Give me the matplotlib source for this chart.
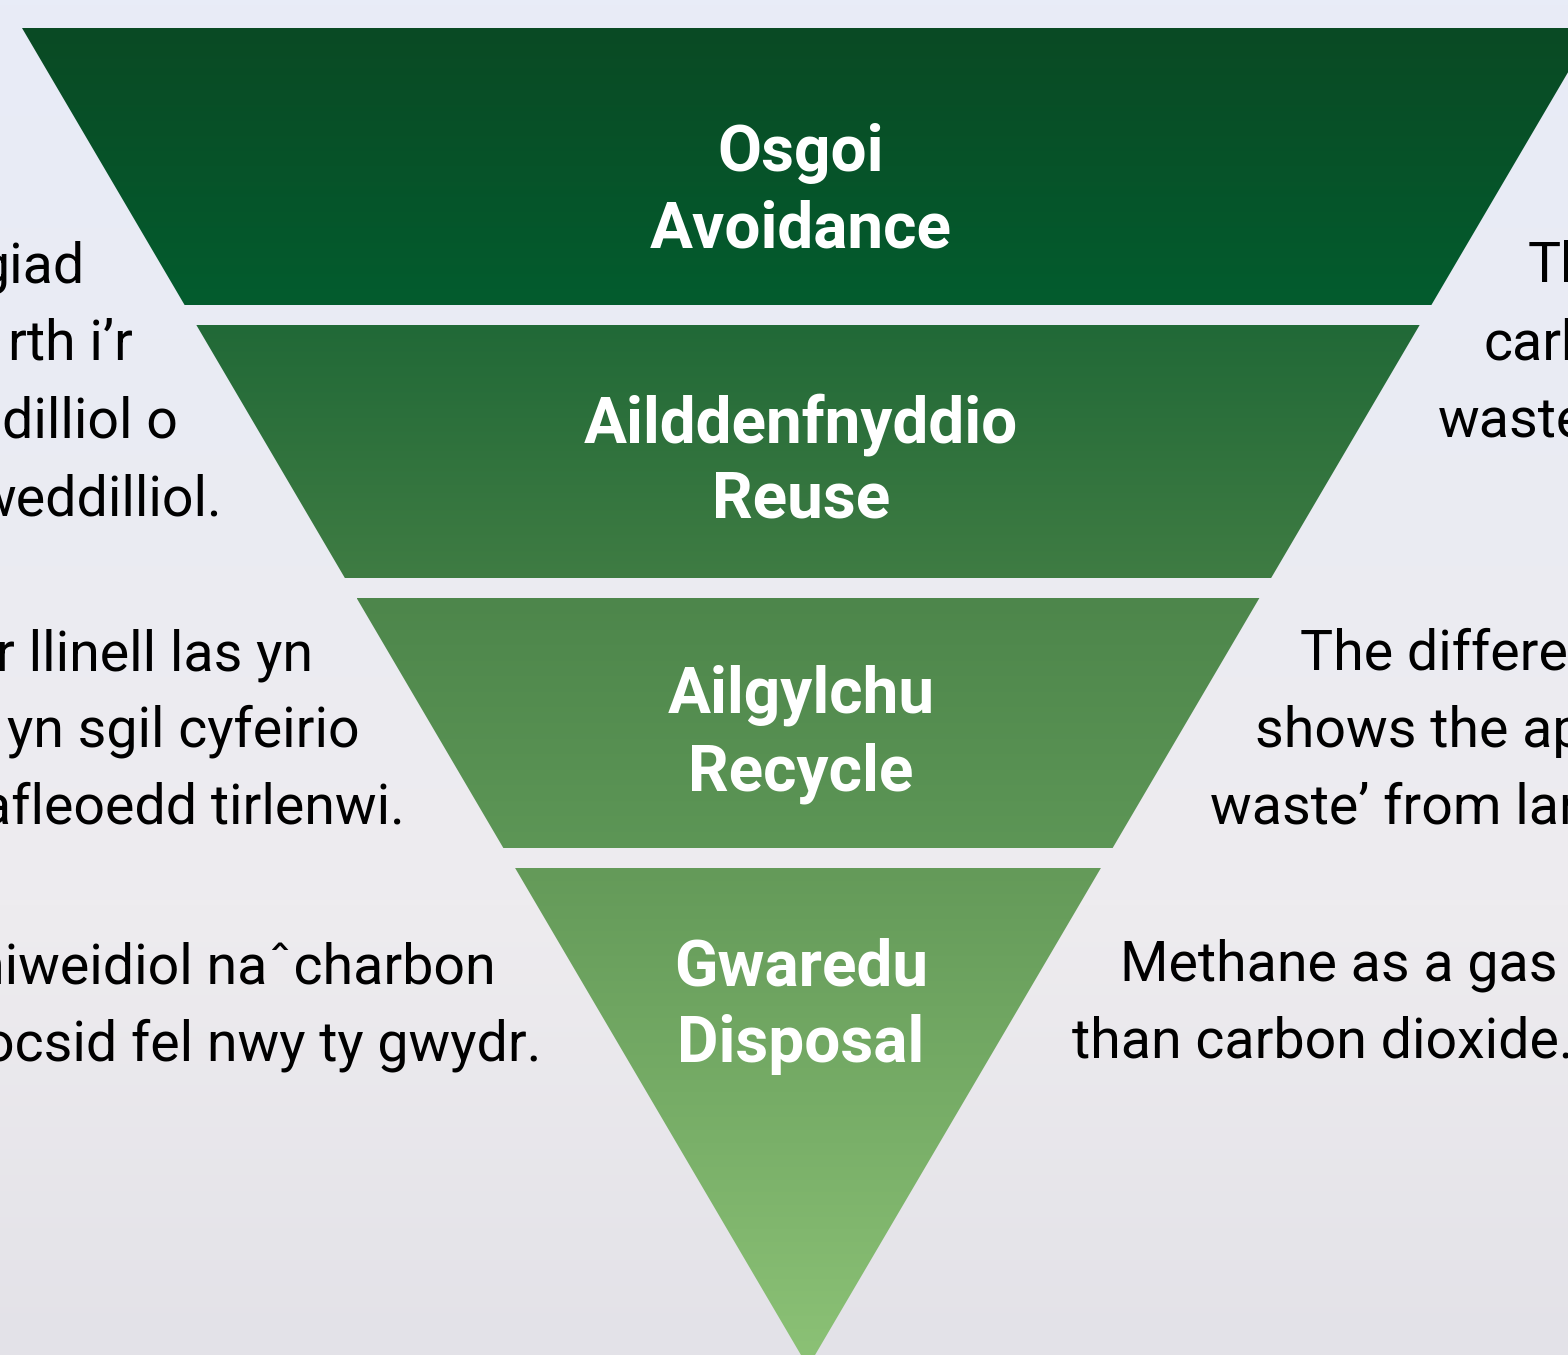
import numpy as np
import matplotlib.pyplot as plt
from matplotlib.patches import Polygon
from matplotlib.colors import LinearSegmentedColormap

# funnel levels (Welsh / English), top to bottom
labels_cy = ["Osgoi", "Ailddenfnyddio", "Ailgylchu", "Gwaredu"]
labels_en = ["Avoidance", "Reuse", "Recycle", "Disposal"]
band_top = [28, 325, 598, 868]
band_bottom = [305, 578, 848, 1367]
band_colors = [("#0a4a24", "#035c2e"), ("#216937", "#3f7c43"),
               ("#4d864b", "#5d9656"), ("#649a59", "#8cc276")]

# side notes (cropped in the original picture)
left_lines = ["giad", "rth i\u2019r", "dilliol o", "weddilliol.",
              "r llinell las yn", "yn sgil cyfeirio", "afleoedd tirlenwi.",
              "niweidiol na\u02c6charbon", "ocsid fel nwy ty gwydr."]
right_lines = ["Th", "carb", "waste",
               "The differen", "shows the ap", "waste\u2019 from lan",
               "Methane as a gas", "than carbon dioxide."]

# layout (pixels)
left_x = [85, 133, 178, 222, 313, 360, 405, 496, 541]
left_y = [283, 360, 438, 515, 670, 747, 823, 983, 1060]
right_x = [1528, 1484, 1438, 1300, 1255, 1210, 1120, 1072]
right_y = [282, 360, 437, 670, 747, 823, 980, 1057]
label_y = [(171, 247), (442, 518), (713, 790), (985, 1062)]

W, H = 1568, 1355
fig = plt.figure(figsize=(W / 100, H / 100), dpi=100)
ax = fig.add_axes([0, 0, 1, 1])
ax.set_xlim(0, W)
ax.set_ylim(H, 0)
ax.axis("off")

# background
bg = LinearSegmentedColormap.from_list("bg", ["#e8ecf7", "#eaebf3", "#eeecef", "#e3e2e8"])
ax.imshow(np.linspace(0, 1, 256).reshape(-1, 1), cmap=bg, aspect="auto",
          extent=[0, W, H, 0], zorder=0)

# funnel geometry
apex_x, apex_y = 808, 1367
slope = (apex_x - 22) / (apex_y - 28)

def half(y):
    return (apex_y - y) * slope

for i in range(len(labels_cy)):
    t, b = band_top[i], band_bottom[i]
    pts = [(apex_x - half(t), t), (apex_x + half(t), t),
           (apex_x + half(b), b), (apex_x - half(b), b)]
    poly = Polygon(pts, closed=True, facecolor="none", edgecolor="none")
    ax.add_patch(poly)
    cm = LinearSegmentedColormap.from_list("b%d" % i, band_colors[i])
    im = ax.imshow(np.linspace(0, 1, 256).reshape(-1, 1), cmap=cm, aspect="auto",
                   extent=[apex_x - half(t), apex_x + half(t), b, t], zorder=2)
    im.set_clip_path(poly)

    y1, y2 = label_y[i]
    ax.text(801, y1, labels_cy[i], color="white", fontsize=46, fontweight="bold",
            ha="center", va="baseline", family="Roboto", zorder=3)
    ax.text(801, y2, labels_en[i], color="white", fontsize=46, fontweight="bold",
            ha="center", va="baseline", family="Roboto", zorder=3)

for s, x, y in zip(left_lines, left_x, left_y):
    ax.text(x, y, s, color="black", fontsize=40, ha="right", va="baseline",
            family="Roboto", zorder=3)
for s, x, y in zip(right_lines, right_x, right_y):
    ax.text(x, y, s, color="black", fontsize=40, ha="left", va="baseline",
            family="Roboto", zorder=3)

ax.set_xlim(0, W)
ax.set_ylim(H, 0)
fig.savefig("out.png", dpi=100)
